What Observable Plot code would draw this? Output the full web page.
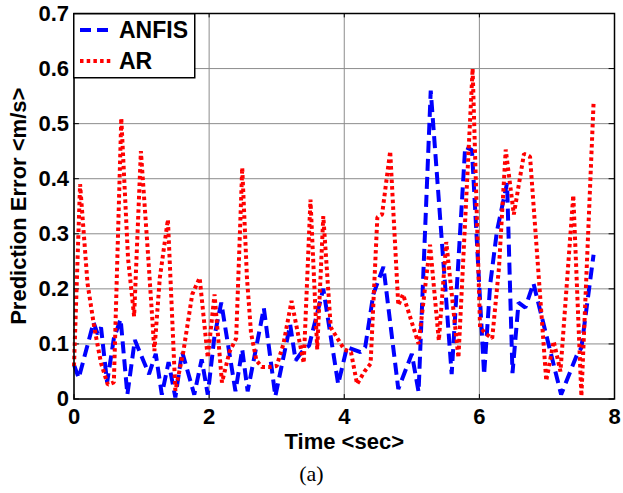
<!DOCTYPE html>
<html>
<head>
<meta charset="utf-8">
<script src="https://cdn.jsdelivr.net/npm/d3@7"></script>
<script src="https://cdn.jsdelivr.net/npm/@observablehq/plot@0.6"></script>
<style>
  body { margin: 0; background: #fff; }
  #wrap { position: relative; width: 623px; height: 493px; overflow: hidden; }
  #legend { position: absolute; left: 73px; top: 13px; }
  #caption { position: absolute; left: 0; top: 461px; width: 623px; text-align: center;
    font-family: "Liberation Serif", "Times New Roman", serif; font-size: 22px; line-height: 26px; }
</style>
</head>
<body>
<div id="wrap">
  <div id="chart"></div>
  <svg id="legend" width="123" height="66"></svg>
  <div id="caption">(a)</div>
</div>
<script>
// ANFIS prediction error (time in sec, error in m/s)
const anfisTime = [0.00,0.07,0.29,0.35,0.40,0.49,0.59,0.69,0.79,0.90,1.11,1.21,1.30,1.40,1.50,1.60,1.78,1.89,1.98,2.08,2.18,2.39,2.49,2.57,2.81,2.98,3.20,3.28,3.40,3.48,3.69,3.91,4.04,4.24,4.31,4.43,4.58,4.80,5.00,5.10,5.28,5.59,5.79,5.89,6.07,6.16,6.26,6.41,6.49,6.58,6.68,6.80,7.21,7.44,7.51,7.69];
const anfisErr  = [0.062,0.038,0.139,0.118,0.130,0.030,0.110,0.145,0.008,0.107,0.045,0.082,0.008,0.067,0.003,0.086,0.008,0.072,0.008,0.115,0.175,0.014,0.090,0.014,0.165,0.005,0.135,0.070,0.090,0.097,0.200,0.027,0.094,0.085,0.094,0.190,0.240,0.018,0.082,0.013,0.560,0.045,0.458,0.452,0.044,0.208,0.305,0.392,0.047,0.175,0.166,0.210,0.008,0.079,0.093,0.262];

// AR prediction error
const arTime = [0.00,0.09,0.20,0.30,0.40,0.50,0.59,0.70,0.80,0.89,0.99,1.10,1.19,1.27,1.39,1.50,1.62,1.75,1.86,1.98,2.08,2.19,2.30,2.40,2.49,2.56,2.62,2.70,2.78,2.90,3.00,3.10,3.22,3.40,3.50,3.60,3.69,3.80,3.90,4.00,4.10,4.19,4.30,4.39,4.49,4.56,4.68,4.80,4.87,5.10,5.27,5.40,5.51,5.69,5.90,6.01,6.10,6.19,6.29,6.39,6.51,6.66,6.75,6.99,7.10,7.20,7.39,7.51,7.69];
const arErr  = [0.060,0.390,0.210,0.130,0.065,0.026,0.030,0.510,0.255,0.150,0.450,0.255,0.087,0.220,0.326,0.015,0.087,0.190,0.220,0.075,0.190,0.030,0.085,0.110,0.420,0.220,0.120,0.070,0.058,0.058,0.060,0.100,0.178,0.065,0.362,0.090,0.332,0.130,0.110,0.090,0.085,0.027,0.050,0.064,0.330,0.335,0.450,0.170,0.190,0.100,0.280,0.106,0.285,0.075,0.600,0.130,0.118,0.110,0.238,0.453,0.335,0.445,0.440,0.033,0.105,0.050,0.370,0.005,0.537];

const xTicks = [0, 2, 4, 6, 8];
const yTicks = [0, 0.1, 0.2, 0.3, 0.4, 0.5, 0.6, 0.7];
const xTickLabels = ["0", "2", "4", "6", "8"];
const yTickLabels = ["0", "0.1", "0.2", "0.3", "0.4", "0.5", "0.6", "0.7"];
const seriesNames = ["ANFIS", "AR"];
const seriesColors = ["#0000ff", "#ff0000"];
const xLabel = "Time <sec>";
const yLabel = "Prediction Error <m/s>";

const anfis = anfisTime.map((t, i) => ({t, v: anfisErr[i]}));
const ar = arTime.map((t, i) => ({t, v: arErr[i]}));

const chart = Plot.plot({
  width: 623,
  height: 455,
  marginTop: 13,
  marginBottom: 56.5,
  marginLeft: 73.5,
  marginRight: 9,
  style: {fontFamily: "'Liberation Sans', Arial, sans-serif", fontSize: "22px", fontWeight: "bold", color: "#000", background: "#fff"},
  x: {domain: [0, 8]},
  y: {domain: [0, 0.7]},
  marks: [
    Plot.gridX(xTicks, {stroke: "#8c8c8c", strokeOpacity: 1, strokeWidth: 1}),
    Plot.gridY(yTicks, {stroke: "#8c8c8c", strokeOpacity: 1, strokeWidth: 1}),
    Plot.axisX(xTicks, {tickSize: 0, tickPadding: 9, tickFormat: (d, i) => xTickLabels[i], label: xLabel, labelAnchor: "center", labelOffset: 50, labelArrow: "none"}),
    Plot.axisY(yTicks, {tickSize: 0, tickPadding: 5, tickFormat: (d, i) => yTickLabels[i], label: yLabel, labelAnchor: "center", labelOffset: 64, labelArrow: "none"}),
    Plot.ruleX(xTicks, {y1: 0, y2: 0.008, stroke: "#000"}),
    Plot.ruleX(xTicks, {y1: 0.692, y2: 0.7, stroke: "#000"}),
    Plot.ruleY(yTicks, {x1: 0, x2: 0.08, stroke: "#000"}),
    Plot.ruleY(yTicks, {x1: 7.92, x2: 8, stroke: "#000"}),
    Plot.line(anfis, {x: "t", y: "v", stroke: seriesColors[0], strokeWidth: 4, strokeDasharray: "12,6", strokeLinecap: "butt", strokeLinejoin: "miter"}),
    Plot.line(ar, {x: "t", y: "v", stroke: seriesColors[1], strokeWidth: 4, strokeDasharray: "3.5,3.2", strokeLinecap: "butt", strokeLinejoin: "miter"}),
    Plot.frame({stroke: "#000", strokeWidth: 1.5})
  ]
});
document.getElementById("chart").appendChild(chart);

// legend box (top-left inside the axes)
const lg = d3.select("#legend");
lg.append("rect").attr("x", 0.75).attr("y", 0.75).attr("width", 121).attr("height", 64)
  .attr("fill", "#fff").attr("stroke", "#000").attr("stroke-width", 1.5);
const rowsY = [17, 48];
seriesNames.forEach((name, i) => {
  lg.append("line").attr("x1", 7).attr("x2", 39).attr("y1", rowsY[i]).attr("y2", rowsY[i])
    .attr("stroke", seriesColors[i]).attr("stroke-width", 4)
    .attr("stroke-dasharray", i === 0 ? "11,6" : "3.5,3.2");
  lg.append("text").attr("x", 46).attr("y", rowsY[i] + 8).text(name)
    .attr("font-family", "'Liberation Sans', Arial, sans-serif").attr("font-weight", "bold")
    .attr("font-size", 23).attr("fill", "#000");
});
</script>
</body>
</html>
